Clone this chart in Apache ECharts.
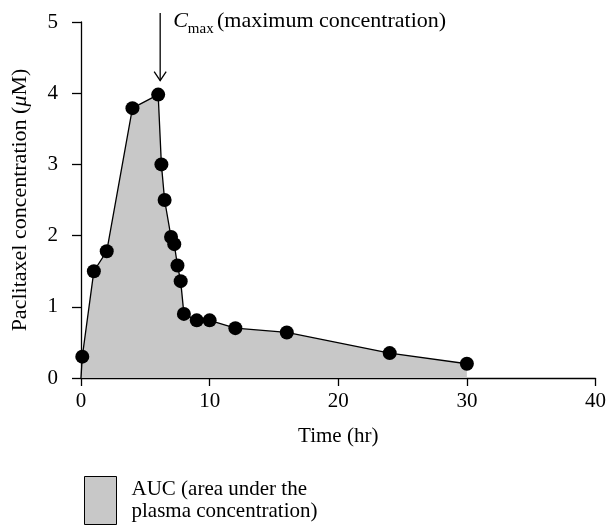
<!DOCTYPE html>
<html>
<head>
<meta charset="utf-8">
<script src="https://cdn.jsdelivr.net/npm/echarts@6/dist/echarts.min.js"></script>
<style>
    html, body { margin: 0; padding: 0; background: #fff; }
    #chart { width: 609px; height: 525px; }
</style>
</head>
<body>
<div id="chart"></div>
<script>
// time points (hr) and paclitaxel concentration (uM)
const timeHr = [0, 0.1, 1, 2, 4, 6, 6.25, 6.5, 7, 7.25, 7.5, 7.75, 8, 9, 10, 12, 16, 24, 30];
const concUM = [0, 0.3, 1.5, 1.78, 3.79, 3.98, 3.0, 2.5, 1.98, 1.88, 1.58, 1.36, 0.9, 0.81, 0.81, 0.7, 0.64, 0.35, 0.2];
const xTicks = [0, 10, 20, 30, 40];
const yTicks = [0, 1, 2, 3, 4, 5];
const cmaxTime = 6;
const cmaxConc = 3.98;
const aucName = 'AUC (area under the\nplasma concentration)';

const font = 'Liberation Serif';
const myChart = echarts.init(document.getElementById('chart'), null, { renderer: 'canvas' });

const points = timeHr.map((t, i) => {
    // first point is the origin of the curve, no marker there
    if (i === 0) return { value: [t, concUM[i]], symbol: 'none' };
    return [t, concUM[i]];
});

const option = {
    animation: false,
    textStyle: { fontFamily: font },
    grid: { left: 81, right: 11, top: 22, bottom: 147 },
    legend: {
        left: 79,
        top: 471,
        orient: 'vertical',
        itemWidth: 32,
        itemHeight: 48,
        itemGap: 0,
        textStyle: { fontFamily: font, fontSize: 21, color: '#000', lineHeight: 22, padding: [2, 0, 0, 10] },
        data: [{
            name: aucName,
            icon: 'rect',
            itemStyle: { color: '#c8c8c8', borderColor: '#000', borderWidth: 1 },
        }],
    },
    xAxis: {
        type: 'value',
        min: xTicks[0],
        max: xTicks[xTicks.length - 1],
        interval: 10,
        name: 'Time (hr)',
        nameLocation: 'middle',
        nameGap: 48,
        nameTextStyle: { fontFamily: font, fontSize: 21, color: '#000' },
        axisLine: { lineStyle: { color: '#000', width: 1.3 } },
        axisTick: { show: true, length: 8, lineStyle: { color: '#000', width: 1.3 } },
        axisLabel: { fontFamily: font, fontSize: 21, color: '#000', margin: 13 },
        splitLine: { show: false },
    },
    yAxis: {
        type: 'value',
        min: yTicks[0],
        max: yTicks[yTicks.length - 1],
        interval: 1,
        name: 'Paclitaxel concentration ({mu|μ}M)',
        nameLocation: 'middle',
        nameGap: 50,
        nameTextStyle: {
            fontFamily: font, fontSize: 22, color: '#000',
            rich: { mu: { fontFamily: font, fontSize: 22, fontStyle: 'italic', color: '#000' } },
        },
        axisLine: { show: true, lineStyle: { color: '#000', width: 1.3 } },
        axisTick: { show: true, length: 9, lineStyle: { color: '#000', width: 1.3 } },
        axisLabel: { fontFamily: font, fontSize: 21, color: '#000', margin: 23 },
        splitLine: { show: false },
    },
    series: [{
        name: aucName,
        type: 'line',
        data: points,
        symbol: 'circle',
        symbolSize: 14,
        itemStyle: { color: '#000' },
        lineStyle: { color: '#000', width: 1.3 },
        areaStyle: { color: '#c8c8c8', opacity: 1 },
        clip: false,
        z: 2,
    }],
};
myChart.setOption(option);

// Cmax arrow and label, positioned from the data scale
const tip = myChart.convertToPixel({ gridIndex: 0 }, [cmaxTime, cmaxConc]);
const arrowX = tip[0] + 2;
const arrowEnd = tip[1] - 14;
const arrowTop = 13;
myChart.setOption({
    graphic: [
        {
            type: 'line',
            shape: { x1: arrowX, y1: arrowTop, x2: arrowX, y2: arrowEnd },
            style: { stroke: '#000', lineWidth: 1.3 },
        },
        {
            type: 'polyline',
            shape: { points: [[arrowX - 6, arrowEnd - 9], [arrowX, arrowEnd], [arrowX + 6, arrowEnd - 9]] },
            style: { stroke: '#000', fill: null, lineWidth: 1.3 },
        },
        {
            type: 'text',
            left: arrowX + 13,
            top: 10,
            style: {
                text: '{c|C}{sub|max} {t|(maximum concentration)}',
                fill: '#000',
                rich: {
                    c: { fontFamily: font, fontSize: 22, fontStyle: 'italic', fill: '#000', verticalAlign: 'bottom' },
                    sub: { fontFamily: font, fontSize: 15, fill: '#000', verticalAlign: 'bottom', padding: [0, 0, -5, 0] },
                    t: { fontFamily: font, fontSize: 22, fill: '#000', verticalAlign: 'bottom' },
                },
            },
        },
    ],
});
</script>
</body>
</html>
